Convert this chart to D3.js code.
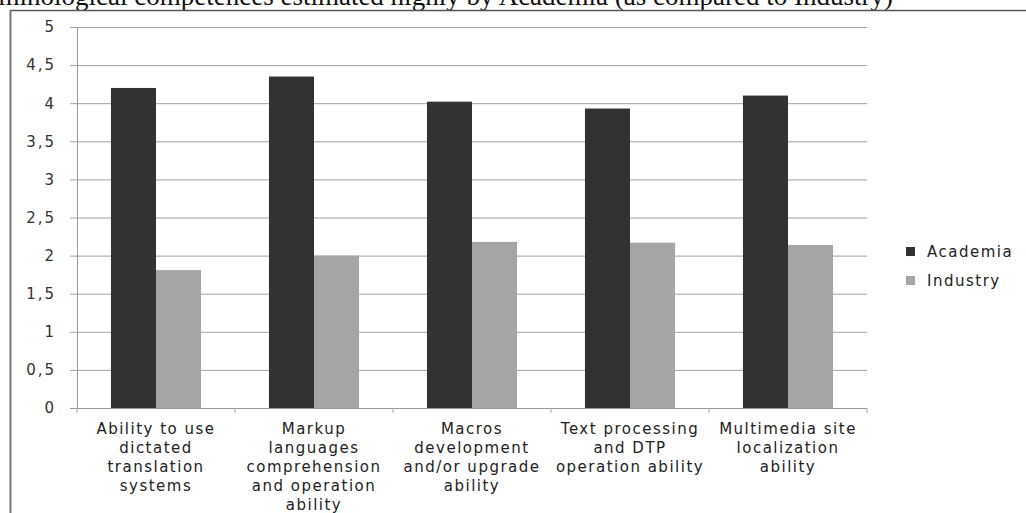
<!DOCTYPE html>
<html>
  <head>
    <title>Competences</title>
    <script src="https://cdn.jsdelivr.net/npm/d3@7"></script>
    <style>
      body { margin: 0; background: #fff; }
      text { font-family: "DejaVu Sans", "Open Sans", sans-serif; }
    </style>
  </head>
  <body>
    <svg width="1026" height="513" id="mainsvg"></svg>
    <script>
      const categories = [
        ['Ability to use', 'dictated', 'translation', 'systems'],
        ['Markup', 'languages', 'comprehension', 'and operation', 'ability'],
        ['Macros', 'development', 'and/or upgrade', 'ability'],
        ['Text processing', 'and DTP', 'operation ability'],
        ['Multimedia site', 'localization', 'ability']
      ];
      const seriesNames = ['Academia', 'Industry'];
      const academia = [4.2, 4.35, 4.02, 3.93, 4.1];
      const industry = [1.81, 2.0, 2.18, 2.17, 2.14];
      const yTicks = [0, 0.5, 1, 1.5, 2, 2.5, 3, 3.5, 4, 4.5, 5];
      const colors = ['#323232', '#a5a5a5'];

      const svg = d3.select('#mainsvg');
      const margin = {top: 27, left: 77, right: 159, bottom: 105};
      const innerWidth = 1026 - margin.left - margin.right;
      const innerHeight = 513 - margin.top - margin.bottom;

      // frame + clipped title (the page only shows its lower half)
      svg.append('text')
        .attr('x', 893).attr('y', 5)
        .attr('text-anchor', 'end')
        .style('font-family', '"Liberation Serif", "Times New Roman", serif')
        .style('font-size', '27px')
        .attr('fill', '#111')
        .text('Terminological competences estimated highly by Academia (as compared to Industry)');
      svg.append('line').attr('x1', 10).attr('x2', 1026).attr('y1', 10.5).attr('y2', 10.5)
        .attr('stroke', '#555').attr('stroke-width', 1.5);
      svg.append('line').attr('x1', 10.5).attr('x2', 10.5).attr('y1', 10).attr('y2', 513)
        .attr('stroke', '#777').attr('stroke-width', 2);

      const g = svg.append('g').attr('transform', `translate(${margin.left}, ${margin.top})`);

      const xScale = d3.scaleBand()
        .domain(d3.range(categories.length))
        .range([0, innerWidth])
        .paddingInner(0.43)
        .paddingOuter(0.215);
      const step = innerWidth / categories.length;
      const xSub = d3.scaleBand().domain(seriesNames).range([0, xScale.bandwidth()]);
      const yScale = d3.scaleLinear().domain([0, 5]).range([innerHeight, 0]);

      // gridlines + y axis
      const yAxis = d3.axisLeft(yScale)
        .tickValues(yTicks)
        .tickFormat(d => String(d).replace('.', ','))
        .tickSize(-innerWidth - 7)
        .tickPadding(20);
      const yAxisGroup = g.append('g').call(yAxis);
      yAxisGroup.select('.domain').remove();
      yAxisGroup.selectAll('.tick line')
        .attr('x1', -7).attr('x2', innerWidth)
        .attr('stroke', '#a0a0a0');
      yAxisGroup.selectAll('.tick text')
        .attr('x', -21)
        .attr('fill', '#333')
        .style('font-family', '"DejaVu Sans", sans-serif')
        .style('font-size', '15px')
        .style('letter-spacing', '2px');
      g.append('line').attr('x1', 0.5).attr('x2', 0.5).attr('y1', 0).attr('y2', innerHeight)
        .attr('stroke', '#999');

      // bars
      const data = categories.map((c, i) => ({i, values: [academia[i], industry[i]]}));
      const groups = g.selectAll('.cat').data(data).enter().append('g')
        .attr('transform', d => `translate(${xScale(d.i)},0)`);
      groups.selectAll('rect')
        .data(d => d.values.map((v, k) => ({name: seriesNames[k], v, k})))
        .enter().append('rect')
        .attr('x', d => xSub(d.name))
        .attr('width', xSub.bandwidth())
        .attr('y', d => yScale(d.v))
        .attr('height', d => innerHeight - yScale(d.v))
        .attr('fill', d => colors[d.k]);

      // x axis line and category ticks
      g.append('line').attr('x1', -7).attr('x2', innerWidth).attr('y1', innerHeight + 0.5).attr('y2', innerHeight + 0.5)
        .attr('stroke', '#999');
      g.selectAll('.ctick').data(d3.range(categories.length + 1)).enter().append('line')
        .attr('x1', d => d * step).attr('x2', d => d * step)
        .attr('y1', innerHeight).attr('y2', innerHeight + 5)
        .attr('stroke', '#aaa');

      // category labels
      const labels = g.selectAll('.clabel').data(categories).enter().append('text')
        .attr('text-anchor', 'middle')
        .attr('fill', '#222')
        .style('font-size', '15px')
        .style('letter-spacing', '1.5px')
        .attr('transform', (d, i) => `translate(${xScale(i) + xScale.bandwidth() / 2},${innerHeight + 26})`);
      labels.selectAll('tspan').data(d => d).enter().append('tspan')
        .attr('x', 0).attr('y', (d, j) => j * 19)
        .text(d => d);

      // legend
      const legend = svg.append('g').attr('transform', 'translate(906,252)');
      seriesNames.forEach((name, k) => {
        legend.append('rect').attr('x', 0).attr('y', k * 29 - 5).attr('width', 9).attr('height', 9)
          .attr('fill', colors[k]);
        legend.append('text').attr('x', 21).attr('y', k * 29 + 5)
          .attr('fill', '#222').style('font-size', '15px')
          .style('letter-spacing', '1.5px').text(name);
      });
    </script>
  </body>
</html>
